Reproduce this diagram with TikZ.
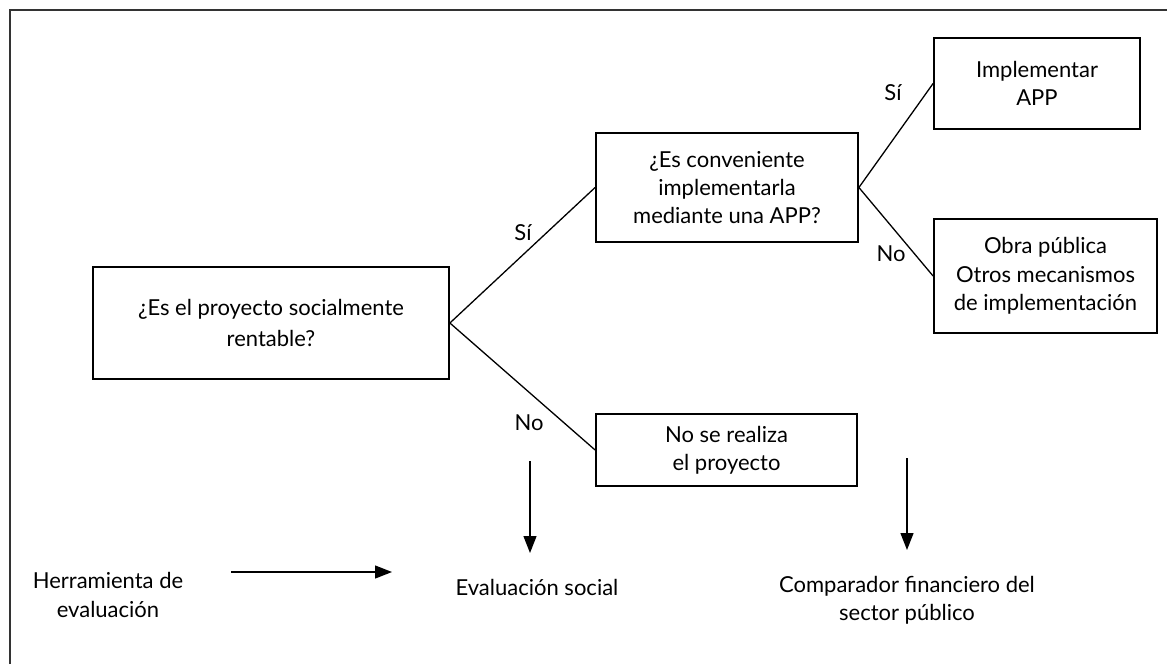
\documentclass[tikz,border=0pt]{standalone}
\usepackage{fontspec}
\setmainfont{Lato}
\usetikzlibrary{arrows.meta}

\begin{document}
\begin{tikzpicture}[x=0.5pt,y=-0.5pt,
  font=\fontsize{11}{14.2}\selectfont,
  box/.style={draw,line width=0.9pt,align=center,inner sep=0pt},
  txt/.style={align=center,inner sep=0pt},
  link/.style={line width=0.65pt},
  tool/.style={line width=0.65pt,-{Triangle[length=8.5pt,width=6.5pt]}}]

\useasboundingbox (0,0) rectangle (1167,664);

% frame
\draw[line width=1pt,black!80] (10,664) -- (10,10) -- (1167,10);

% boxes
\node[box,minimum width=178pt,minimum height=56pt] (rent) at (271,323)
  {¿Es el proyecto socialmente\\[1pt]rentable?};
\node[box,minimum width=131pt,minimum height=54.5pt] (conv) at (727,187.5)
  {¿Es conveniente\\implementarla\\mediante una APP?};
\node[box,minimum width=103pt,minimum height=45.5pt] (impl) at (1037,83.5)
  {Implementar\\APP};
\node[box,minimum width=111.5pt,minimum height=57pt] (obra) at (1045.5,276)
  {Obra pública\\Otros mecanismos\\de implementación};
\node[box,minimum width=130.5pt,minimum height=36pt] (nose) at (726.5,450)
  {No se realiza\\el proyecto};

% edges
\draw[link] (rent.east) -- (conv.west);
\draw[link] (rent.east) -- (nose.west);
\draw[link] (conv.east) -- (impl.west);
\draw[link] (conv.east) -- (obra.west);

% answers
\node[txt] (si1) at (523,233) {Sí};
\node[txt] (no1) at (529,423) {No};
\node[txt] (si2) at (893,93) {Sí};
\node[txt] (no2) at (891,254) {No};

% tools
\node[txt] (herr) at (108,595) {Herramienta de\\evaluación};
\node[txt] (evsoc) at (537,587) {Evaluación social};
\node[txt] (comp) at (907,600) {Comparador financiero del\\sector público};

\coordinate (h0) at (231,572);
\coordinate (h1) at (392,572);
\coordinate (e0) at (530,461);
\coordinate (e1) at (530,553);
\coordinate (c0) at (907,458);
\coordinate (c1) at (907,550);

\draw[tool] (h0) -- (h1);
\draw[tool] (e0) -- (e1);
\draw[tool] (c0) -- (c1);

\end{tikzpicture}
\end{document}
